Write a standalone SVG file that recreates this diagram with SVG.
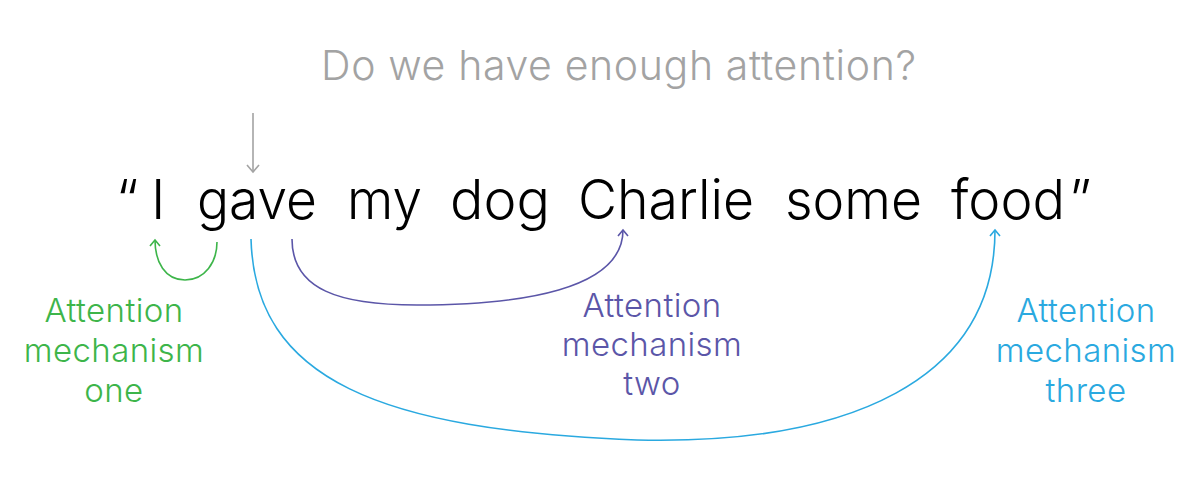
<svg xmlns="http://www.w3.org/2000/svg" width="1200" height="484" viewBox="0 0 1200 484">
<style>
  text { font-family: Inter, "Noto Sans", "Liberation Sans", sans-serif; font-weight: 300; }
  .title { font-size: 41px; fill: #a3a3a3; }
  .word { font-size: 55px; fill: #000; }
  .lbl { font-size: 33px; text-anchor: middle; letter-spacing: 0.4px; }
  .green { fill: #3db54a; }
  .purple { fill: #5b56a8; }
  .blue { fill: #2aa9e0; }
  .conn { fill: none; stroke-width: 1.6; }
</style>
<defs>
  <marker id="ag" markerUnits="userSpaceOnUse" markerWidth="14" markerHeight="14" refX="0" refY="0" viewBox="-7 -7 14 14" orient="auto">
    <path d="M-6,-5 L0,0 L-6,5" fill="none" stroke="#3db54a" stroke-width="1.6"/>
  </marker>
  <marker id="ap" markerUnits="userSpaceOnUse" markerWidth="14" markerHeight="14" refX="0" refY="0" viewBox="-7 -7 14 14" orient="auto">
    <path d="M-6,-5 L0,0 L-6,5" fill="none" stroke="#5b56a8" stroke-width="1.6"/>
  </marker>
  <marker id="ab" markerUnits="userSpaceOnUse" markerWidth="14" markerHeight="14" refX="0" refY="0" viewBox="-7 -7 14 14" orient="auto">
    <path d="M-6,-5 L0,0 L-6,5" fill="none" stroke="#2aa9e0" stroke-width="1.6"/>
  </marker>
  <marker id="ay" markerUnits="userSpaceOnUse" markerWidth="16" markerHeight="16" refX="0" refY="0" viewBox="-8 -8 16 16" orient="auto">
    <path d="M-7,-6 L0,0 L-7,6" fill="none" stroke="#a3a3a3" stroke-width="1.6"/>
  </marker>
</defs>
<rect width="1200" height="484" fill="#fff"/>
<g id="title"><text class="title" x="321" y="80" textLength="595">Do we have enough attention?</text></g>
<g id="sentence">
  <text class="word" x="116" y="219">“</text>
  <text class="word" x="151" y="219">I</text>
  <text class="word" x="197" y="219" textLength="120" lengthAdjust="spacingAndGlyphs">gave</text>
  <text class="word" x="347" y="219" textLength="75" lengthAdjust="spacingAndGlyphs">my</text>
  <text class="word" x="450" y="219" textLength="100" lengthAdjust="spacingAndGlyphs">dog</text>
  <text class="word" x="578" y="219" textLength="176" lengthAdjust="spacingAndGlyphs">Charlie</text>
  <text class="word" x="785" y="219" textLength="137" lengthAdjust="spacingAndGlyphs">some</text>
  <text class="word" x="951" y="219" textLength="114" lengthAdjust="spacingAndGlyphs">food</text>
  <text class="word" x="1069" y="219">”</text>
</g>
<g id="label-one"><text class="lbl green" y="322"><tspan x="114">Attention</tspan><tspan x="114" dy="40">mechanism</tspan><tspan x="114" dy="40">one</tspan></text></g>
<g id="label-two"><text class="lbl purple" y="317"><tspan x="652">Attention</tspan><tspan x="652" dy="39">mechanism</tspan><tspan x="652" dy="39">two</tspan></text></g>
<g id="label-three"><text class="lbl blue" y="322"><tspan x="1086">Attention</tspan><tspan x="1086" dy="40">mechanism</tspan><tspan x="1086" dy="40">three</tspan></text></g>
<g id="connectors">
  <path class="conn" stroke="#a3a3a3" d="M253,113 L253,172" marker-end="url(#ay)"/>
  <path class="conn" stroke="#3db54a" d="M217,242 C217,262 205,280 185,280 C165,280 155,262 155,240" marker-end="url(#ag)"/>
  <path class="conn" stroke="#5b56a8" d="M292,239 C292,290 340,305 417,305 C520,305 623,290 623,230" marker-end="url(#ap)"/>
  <path class="conn" stroke="#2aa9e0" d="M251,239 C255,380 380,430 637,440 C850,445 995,380 995,230" marker-end="url(#ab)"/>
</g>
</svg>
